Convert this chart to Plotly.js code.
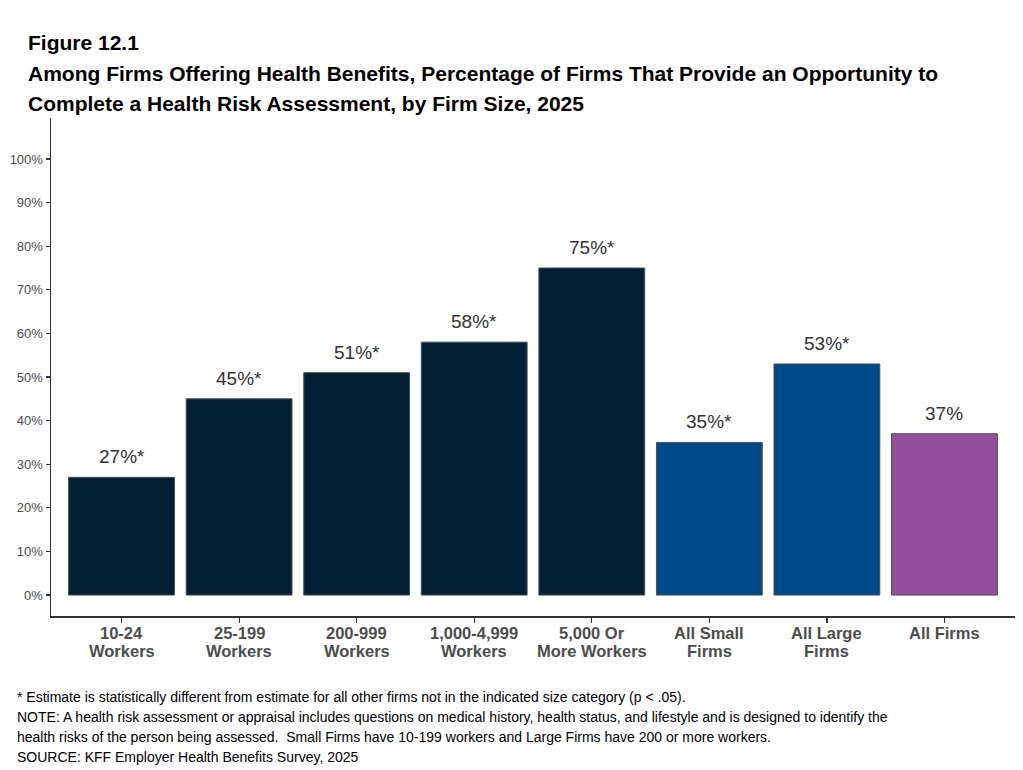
<!DOCTYPE html>
<html>
<head>
<meta charset="utf-8">
<script src="https://cdn.plot.ly/plotly-3.0.1.min.js"></script>
<style>
  body { margin: 0; background: #fff; }
  #chart { width: 1023px; height: 770px; }
</style>
</head>
<body>
<div id="chart"></div>
<script>
'use strict';

// categories and values
var categories = ['10-24<br>Workers', '25-199<br>Workers', '200-999<br>Workers',
  '1,000-4,999<br>Workers', '5,000 Or<br>More Workers', 'All Small<br>Firms',
  'All Large<br>Firms', 'All Firms'];
var shares = [27, 45, 51, 58, 75, 35, 53, 37];
var signif = [true, true, true, true, true, true, true, false];
var barColors = ['#011f35', '#011f35', '#011f35', '#011f35', '#011f35',
  '#004b87', '#004b87', '#924f9c'];

var titleLines = [
  'Figure 12.1',
  'Among Firms Offering Health Benefits, Percentage of Firms That Provide an Opportunity to',
  'Complete a Health Risk Assessment, by Firm Size, 2025'
];
var noteLines = [
  '* Estimate is statistically different from estimate for all other firms not in the indicated size category (p < .05).',
  'NOTE: A health risk assessment or appraisal includes questions on medical history, health status, and lifestyle and is designed to identify the',
  'health risks of the person being assessed.  Small Firms have 10-199 workers and Large Firms have 200 or more workers.',
  'SOURCE: KFF Employer Health Benefits Survey, 2025'
];

var W = 1023, H = 770;
var mL = 51, mR = 8, mT = 118, mB = 154;
var plotW = W - mL - mR, plotH = H - mT - mB;
var FONT = 'Liberation Sans, Arial, sans-serif';

var xIdx = categories.map(function(c, i) { return i; });

var bars = {
  type: 'bar',
  x: xIdx,
  y: shares,
  width: 0.9,
  marker: { color: barColors, line: { color: '#4d4d4d', width: 1 } },
  hoverinfo: 'skip'
};

var annotations = [];

// value labels above bars
shares.forEach(function(v, i) {
  annotations.push({
    x: i, y: v, xref: 'x', yref: 'y',
    text: v + '%' + (signif[i] ? '*' : ''),
    showarrow: false, yanchor: 'bottom', yshift: 8,
    font: { family: FONT, size: 19, color: '#333333' }
  });
});

// category labels (tighter line spacing than plotly tick labels)
var catLineY = [633, 651];
categories.forEach(function(c, i) {
  c.split('<br>').forEach(function(line, j) {
    annotations.push({
      x: i, xref: 'x', yref: 'paper',
      y: (H - mB - catLineY[j]) / plotH,
      yanchor: 'middle', showarrow: false,
      text: '<b>' + line + '</b>',
      font: { family: FONT, size: 16.5, color: '#4d4d4d' }
    });
  });
});

// title lines
var titleY = [43, 73, 103];
titleLines.forEach(function(t, i) {
  annotations.push({
    xref: 'paper', yref: 'paper',
    x: (26 - mL) / plotW, y: (H - mB - titleY[i]) / plotH,
    xanchor: 'left', yanchor: 'middle',
    text: '<b>' + t + '</b>', showarrow: false,
    font: { family: FONT, size: 21, color: '#000000' }
  });
});

// notes
var noteY = [697, 717, 737, 757];
noteLines.forEach(function(t, i) {
  annotations.push({
    xref: 'paper', yref: 'paper',
    x: (15 - mL) / plotW, y: (H - mB - noteY[i]) / plotH,
    xanchor: 'left', yanchor: 'middle',
    text: t.replace(/</g, '&lt;'), showarrow: false,
    font: { family: FONT, size: 14, color: '#000000' }
  });
});

var layout = {
  width: W, height: H,
  margin: { l: mL, r: mR, t: mT, b: mB },
  paper_bgcolor: '#ffffff', plot_bgcolor: '#ffffff',
  showlegend: false,
  xaxis: {
    range: [-0.6, 7.6],
    tickvals: xIdx, ticktext: xIdx.map(function() { return ''; }),
    showgrid: false, zeroline: false,
    showline: true, linecolor: '#333333', linewidth: 1.5,
    ticks: 'outside', ticklen: 5, tickcolor: '#333333', tickwidth: 1.2
  },
  yaxis: {
    range: [-4.8, 109.4],
    tickvals: [0, 10, 20, 30, 40, 50, 60, 70, 80, 90, 100],
    ticktext: ['0%', '10%', '20%', '30%', '40%', '50%', '60%', '70%', '80%', '90%', '100%'],
    showgrid: false, zeroline: false,
    showline: true, linecolor: '#333333', linewidth: 1.5,
    ticks: 'outside', ticklen: 4, tickcolor: '#333333', tickwidth: 1.2,
    tickfont: { family: FONT, size: 13, color: '#4d4d4d' }
  },
  annotations: annotations
};

Plotly.newPlot('chart', [bars], layout, { displayModeBar: false, staticPlot: true });
</script>
</body>
</html>
